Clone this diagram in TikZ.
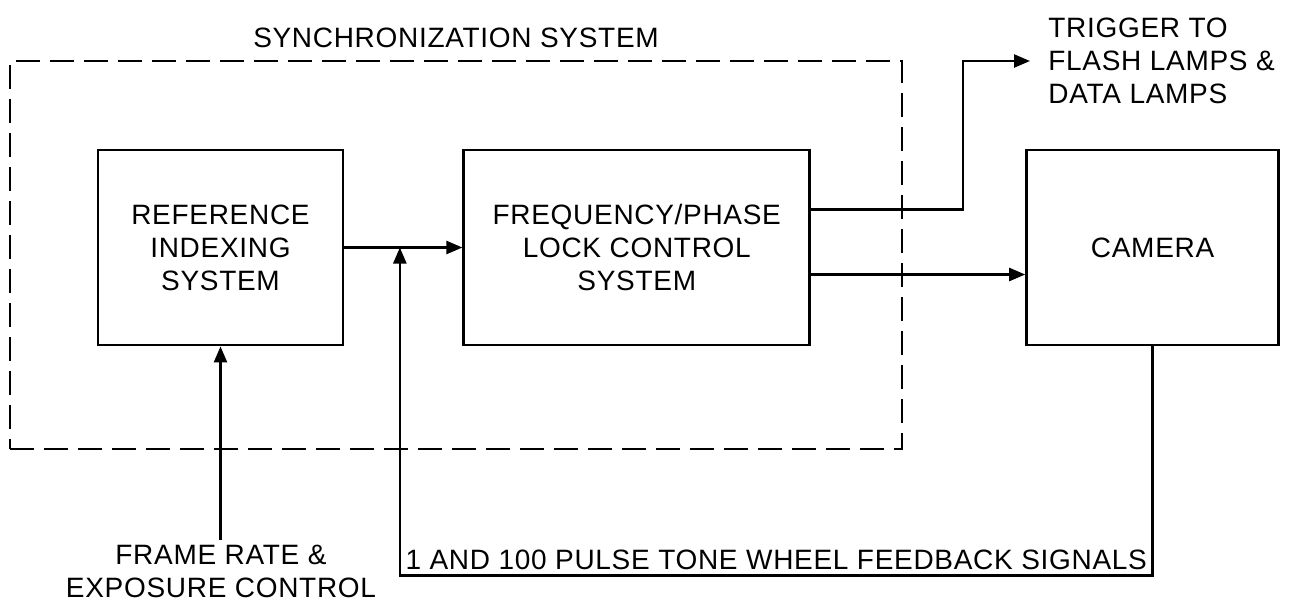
\documentclass[tikz,border=0pt]{standalone}
\usepackage{fontspec}
\setmainfont[LetterSpace=2.5]{Liberation Sans}
\usetikzlibrary{arrows.meta, positioning, calc}

\begin{document}
\begin{tikzpicture}[
    x=0.5pt, y=-0.5pt,
    node distance=60pt,
    block/.style={rectangle, draw, line width=1.4pt, minimum width=122.5pt, minimum height=97.5pt, align=center, font=\fontsize{14}{16.5}\selectfont},
    arrow/.style={-{Triangle[length=8pt, width=6.5pt]}, line width=1.2pt},
    sigtext/.style={align=center, inner sep=2pt, font=\fontsize{14}{16.5}\selectfont},
    groupbox/.style={rectangle, draw, line width=1pt, dash pattern=on 12pt off 5pt, minimum width=446pt, minimum height=194pt}
]
\useasboundingbox (0,0) rectangle (1299,601);

% Synchronization system boundary
\node[groupbox] (sync) at (456,255) {};
\node[sigtext] (synclabel) at (456,38) {SYNCHRONIZATION SYSTEM};

% Reference indexing
\node[block] (ref) at (220.5,247.5) {REFERENCE\\INDEXING\\SYSTEM};

% Frequency/phase lock
\node[block, minimum width=173pt, right=59pt of ref] (freq) {FREQUENCY/PHASE\\LOCK CONTROL\\SYSTEM};

% Camera
\node[block, minimum width=126pt, right=107pt of freq] (cam) {CAMERA};

% Trigger output
\node[sigtext, align=left, anchor=west] (trig) at (1044,61) {TRIGGER TO\\FLASH LAMPS \&\\DATA LAMPS};

% Frame rate input
\node[sigtext] (frame) at (221,571) {FRAME RATE \&\\EXPOSURE CONTROL};

% Arrows
\coordinate (junc) at ($(ref.east)!0.47!(freq.west)$);
\draw[arrow] (ref) -- (freq);
\draw[arrow] (frame.north -| ref) -- (ref.south);
\draw[arrow, shorten >=7pt] ([yshift=19pt]freq.east) -- ++(152,0) |- (trig.west);
\draw[arrow] ([yshift=-13.5pt]freq.east) -- ([yshift=-13.5pt]cam.west);

% Feedback loop
\draw[arrow] (cam.south) -- ++(0,229) -| node[pos=0.25, above, sigtext] {1 AND 100 PULSE TONE WHEEL FEEDBACK SIGNALS} (junc);

\end{tikzpicture}
\end{document}
